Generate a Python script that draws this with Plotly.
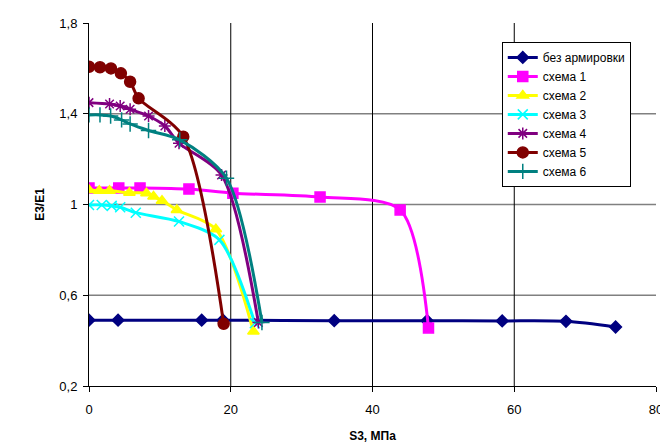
import plotly.graph_objects as go

names = ["без армировки", "схема 1", "схема 2", "схема 3", "схема 4", "схема 5", "схема 6"]

x0 = [0, 4.1, 15.9, 18.9, 34.6, 47.7, 58.3, 67.3, 74.3]
y0 = [0.49, 0.49, 0.49, 0.49, 0.488, 0.488, 0.487, 0.485, 0.46]

x1 = [0, 4.2, 7.2, 14.1, 20.3, 32.6, 43.9, 47.9]
y1 = [1.073, 1.073, 1.073, 1.068, 1.05, 1.033, 0.976, 0.456]

x2 = [0, 1.45, 2.9, 5.7, 8.1, 9.1, 10.3, 12.4, 17.9, 23.2]
y2 = [1.064, 1.061, 1.061, 1.052, 1.05, 1.035, 1.017, 0.976, 0.891, 0.44]

x3 = [0, 1.8, 3.2, 4.4, 6.6, 12.7, 18.4, 23.4]
y3 = [0.998, 0.998, 0.994, 0.988, 0.964, 0.925, 0.844, 0.477]

x4 = [0, 2.9, 4.4, 5.8, 8.4, 10.7, 12.7, 18.7, 23.9]
y4 = [1.449, 1.443, 1.434, 1.42, 1.39, 1.346, 1.27, 1.13, 0.48]

x5 = [0, 1.55, 3.1, 4.5, 5.8, 7.0, 13.3, 19.0]
y5 = [1.607, 1.605, 1.6, 1.578, 1.541, 1.468, 1.299, 0.474]

x6 = [0, 1.55, 3.05, 4.6, 5.8, 8.4, 12.8, 19.4, 24.4]
y6 = [1.395, 1.395, 1.39, 1.373, 1.355, 1.326, 1.285, 1.116, 0.48]

xs = [x0, x1, x2, x3, x4, x5, x6]
ys = [y0, y1, y2, y3, y4, y5, y6]

colors = ["#000080", "#FF00FF", "#FFFF00", "#00FFFF", "#800080", "#800000", "#008080"]
symbols = ["diamond", "square", "triangle-up", "x-thin", "asterisk", "circle", "cross-thin"]
msizes = [9, 10, 10, 10, 10, 11, 11]

y_tickvals = [0.2, 0.6, 1.0, 1.4, 1.8]
y_ticktext = ["0,2", "0,6", "1", "1,4", "1,8"]
x_tickvals = [0, 20, 40, 60, 80]
grid_y = [0.6, 1.0, 1.4]
grid_x = [20, 40, 60]

fig = go.Figure()
for i in range(7):
    line_marker = dict(symbol=symbols[i], size=msizes[i], color=colors[i],
                       line=dict(color=colors[i], width=1.5))
    fig.add_trace(go.Scatter(
        x=xs[i], y=ys[i], name=names[i], mode="lines+markers",
        line=dict(color=colors[i], width=3, shape="spline", smoothing=0.8),
        marker=line_marker,
    ))

shapes = []
for g in grid_y:
    shapes.append(dict(type="line", xref="paper", yref="y", x0=0, x1=1, y0=g, y1=g,
                       line=dict(color="#808080", width=1.5), layer="below"))
for g in grid_x:
    shapes.append(dict(type="line", xref="x", yref="paper", x0=g, x1=g, y0=0, y1=1,
                       line=dict(color="#000000", width=1), layer="below"))

fig.update_layout(
    width=660, height=435,
    margin=dict(l=81, r=12, t=15, b=57),
    paper_bgcolor="white", plot_bgcolor="white",
    font=dict(family="Liberation Sans, Arial, sans-serif", color="black", size=13),
    shapes=shapes,
    showlegend=True,
    legend=dict(x=0.728, y=0.948, xanchor="left", yanchor="top",
                bordercolor="black", borderwidth=1, bgcolor="white",
                font=dict(size=12), tracegroupgap=0, itemwidth=30),
    xaxis=dict(range=[0, 80], tickvals=x_tickvals, showgrid=False, zeroline=False,
               showline=True, linecolor="black", linewidth=1, automargin=False,
               ticks="outside", ticklen=5, tickcolor="black", ticklabelstandoff=6,
               title=dict(text="<b>S3, МПа</b>", font=dict(size=12), standoff=22)),
    yaxis=dict(range=[0.2, 1.8], tickvals=y_tickvals, ticktext=y_ticktext,
               showgrid=False, zeroline=False, automargin=False,
               showline=True, linecolor="black", linewidth=1,
               ticks="outside", ticklen=5, tickcolor="black", ticklabelstandoff=3,
               title=dict(text="<b>E3/E1</b>", font=dict(size=12), standoff=12)),
)

fig.write_html("out.html")
